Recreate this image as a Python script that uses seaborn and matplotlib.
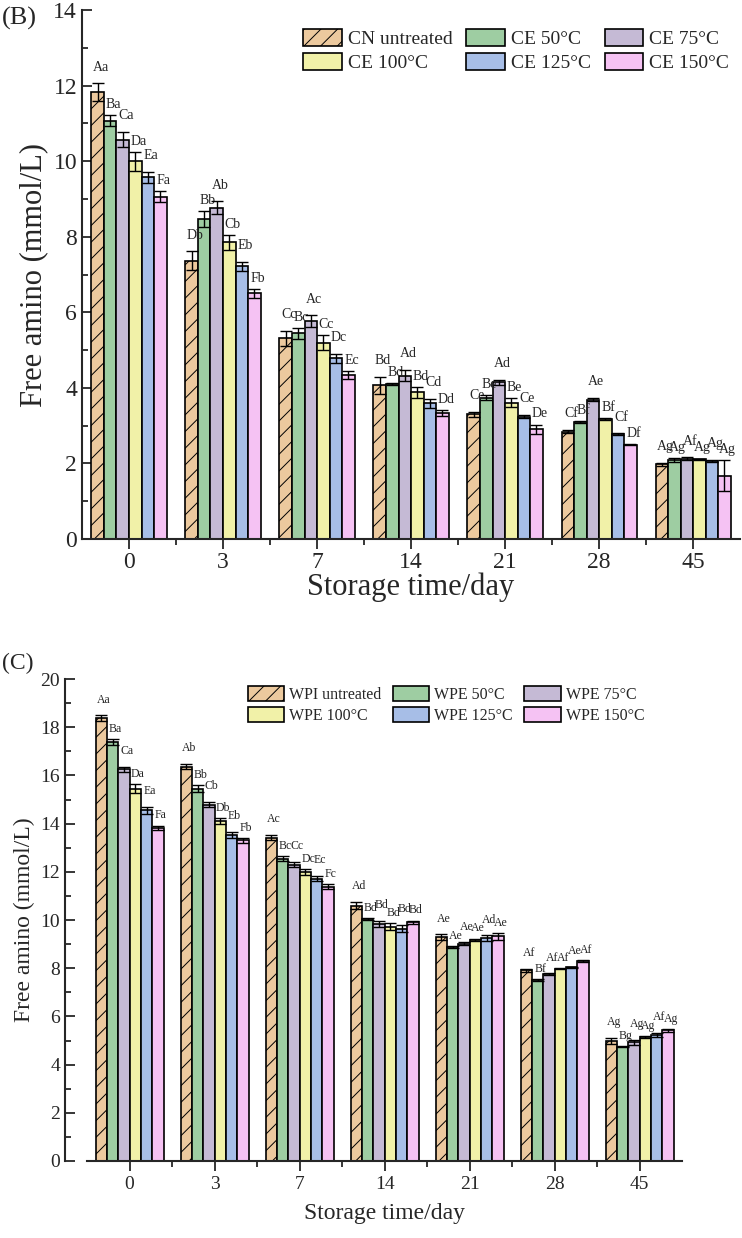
# Free amino groups during storage - panels (B) casein and (C) whey protein
import pandas as pd
import matplotlib.pyplot as plt
import seaborn as sns
from matplotlib.ticker import MultipleLocator
from matplotlib.container import BarContainer

days = ["0", "3", "7", "14", "21", "28", "45"]
colors = ["#F9CB91", "#96D59B", "#C4B5DA", "#FDFD9C", "#9CBBF2", "#FDB9FB"]

# --- Panel B: casein ---
groups_b = ["CN untreated", "CE 50°C", "CE 75°C", "CE 100°C", "CE 125°C", "CE 150°C"]
vals_b = [
    [11.82, 7.36, 5.31, 4.07, 3.30, 2.84, 1.98],
    [11.07, 8.47, 5.44, 4.10, 3.74, 3.09, 2.09],
    [10.57, 8.77, 5.77, 4.32, 4.15, 3.69, 2.13],
    [10.00, 7.85, 5.19, 3.88, 3.61, 3.18, 2.11],
    [9.57, 7.22, 4.78, 3.59, 3.24, 2.78, 2.07],
    [9.06, 6.50, 4.34, 3.33, 2.91, 2.50, 1.68],
]
err_b = [
    [0.24, 0.25, 0.20, 0.22, 0.07, 0.04, 0.04],
    [0.15, 0.20, 0.15, 0.02, 0.07, 0.03, 0.05],
    [0.20, 0.17, 0.15, 0.15, 0.07, 0.04, 0.03],
    [0.25, 0.20, 0.20, 0.15, 0.12, 0.02, 0.02],
    [0.15, 0.12, 0.12, 0.12, 0.04, 0.02, 0.02],
    [0.15, 0.12, 0.10, 0.08, 0.12, 0.02, 0.40],
]
letters_b = [
    ["Aa", "Db", "Cc", "Bd", "Ce", "Cf", "Ag"],
    ["Ba", "Bb", "Bc", "Bd", "Be", "Bf", "Ag"],
    ["Ca", "Ab", "Ac", "Ad", "Ad", "Ae", "Af"],
    ["Da", "Cb", "Cc", "Bd", "Be", "Bf", "Ag"],
    ["Ea", "Eb", "Dc", "Cd", "Ce", "Cf", "Ag"],
    ["Fa", "Fb", "Ec", "Dd", "De", "Df", "Ag"],
]

# --- Panel C: whey protein ---
groups_c = ["WPI untreated", "WPE 50°C", "WPE 75°C", "WPE 100°C", "WPE 125°C", "WPE 150°C"]
vals_c = [
    [18.37, 16.37, 13.42, 10.60, 9.28, 7.91, 4.98],
    [17.38, 15.45, 12.55, 10.05, 8.88, 7.52, 4.74],
    [16.25, 14.79, 12.30, 9.85, 9.02, 7.76, 4.92],
    [15.45, 14.10, 12.00, 9.72, 9.18, 7.98, 5.15],
    [14.55, 13.54, 11.72, 9.64, 9.24, 8.04, 5.23],
    [13.82, 13.31, 11.38, 9.90, 9.32, 8.30, 5.42],
]
err_c = [
    [0.12, 0.12, 0.12, 0.15, 0.12, 0.05, 0.12],
    [0.12, 0.15, 0.10, 0.03, 0.05, 0.03, 0.03],
    [0.10, 0.10, 0.12, 0.12, 0.05, 0.03, 0.10],
    [0.18, 0.12, 0.12, 0.15, 0.05, 0.03, 0.03],
    [0.15, 0.12, 0.12, 0.15, 0.12, 0.03, 0.08],
    [0.10, 0.10, 0.10, 0.08, 0.15, 0.03, 0.05],
]
letters_c = [
    ["Aa", "Ab", "Ac", "Ad", "Ae", "Af", "Ag"],
    ["Ba", "Bb", "Bc", "Bd", "Ae", "Bf", "Bg"],
    ["Ca", "Cb", "Cc", "Bd", "Ae", "Af", "Ag"],
    ["Da", "Db", "Dc", "Bd", "Ae", "Af", "Ag"],
    ["Ea", "Eb", "Ec", "Bd", "Ad", "Ae", "Af"],
    ["Fa", "Fb", "Fc", "Bd", "Ae", "Af", "Ag"],
]

sns.set_style("ticks")
plt.rcParams["font.family"] = ["Liberation Serif", "DejaVu Serif"]
plt.rcParams["hatch.linewidth"] = 0.7

# legend fills column by column; this gives the row-wise order of the original
legend_order = [0, 3, 1, 4, 2, 5]


def panel(ax, groups, vals, errs, letters, ymax, fs):
    rows = []
    for g, v in zip(groups, vals):
        for d, y in zip(days, v):
            rows.append({"day": d, "value": y, "group": g})
    df = pd.DataFrame(rows)
    sns.barplot(data=df, x="day", y="value", hue="group", order=days,
                hue_order=groups, palette=colors, width=0.8, errorbar=None,
                edgecolor="black", linewidth=1.2, legend=False, ax=ax)
    bars = [c for c in ax.containers if isinstance(c, BarContainer)]
    for i, cont in enumerate(bars):
        for j, bar in enumerate(cont.patches):
            if i == 0:
                bar.set_hatch("//")
            cx = bar.get_x() + bar.get_width() / 2
            top = bar.get_height()
            ax.errorbar(cx, top, yerr=errs[i][j], color="black", elinewidth=1,
                        capsize=4.2, capthick=1, zorder=5)
            # small stagger so neighbouring letters do not sit on one line
            lift = 3 + (4 if i % 2 == 0 else 0)
            ax.annotate(letters[i][j], (cx + bar.get_width() * 0.25, top + errs[i][j]),
                        xytext=(0, lift), textcoords="offset points",
                        ha="center", va="bottom", fontsize=fs["ann"])
    ax.set_ylim(0, ymax)
    ax.set_xlim(-0.5, 6.5)
    ax.yaxis.set_major_locator(MultipleLocator(2))
    ax.yaxis.set_minor_locator(MultipleLocator(1))
    ax.set_xticks(range(len(days)))
    ax.set_xticks([k + 0.5 for k in range(len(days) - 1)], minor=True)
    ax.tick_params(axis="y", which="both", direction="in", width=1.3,
                   labelsize=fs["tick"])
    ax.tick_params(axis="y", which="major", length=7)
    ax.tick_params(axis="y", which="minor", length=4)
    ax.tick_params(axis="x", which="both", direction="out", width=1.3,
                   labelsize=fs["tick"], pad=fs["xpad"])
    ax.tick_params(axis="x", which="major", length=7)
    ax.tick_params(axis="x", which="minor", length=4)
    for s in ["top", "right"]:
        ax.spines[s].set_visible(False)
    for s in ["left", "bottom"]:
        ax.spines[s].set_linewidth(1.5)
    ax.set_xlabel("Storage time/day", fontsize=fs["label"], labelpad=fs["lpad"])
    ax.set_ylabel("Free amino (mmol/L)", fontsize=fs["label"])
    return bars


fig = plt.figure(figsize=(7.42, 12.38), dpi=100)

# (B)
ax1 = fig.add_axes([0.1105, 0.5646, 0.887, 0.4273])
bars1 = panel(ax1, groups_b, vals_b, err_b, letters_b, 14,
              {"ann": 10, "tick": 17, "label": 22, "xpad": 2, "lpad": 0})
ax1.legend([bars1[k] for k in legend_order], [groups_b[k] for k in legend_order],
           ncol=3, frameon=False, fontsize=14,
           loc="upper left", bbox_to_anchor=(0.336, 0.965), borderaxespad=0,
           borderpad=0, handlelength=2.0, handleheight=1.0, handletextpad=0.3,
           columnspacing=0.7, labelspacing=0.25)
fig.text(0.003, 0.985, "(B)", fontsize=19, va="center", ha="left")

# (C)
ax2 = fig.add_axes([0.1173, 0.0622, 0.802, 0.3893])
bars2 = panel(ax2, groups_c, vals_c, err_c, letters_c, 20,
              {"ann": 8.5, "tick": 14, "label": 17, "xpad": 4, "lpad": 7})
ax2.spines["left"].set_position(("outward", 16))
ax2.legend([bars2[k] for k in legend_order], [groups_c[k] for k in legend_order],
           ncol=3, frameon=False, fontsize=11.5,
           loc="upper left", bbox_to_anchor=(0.27, 0.985), borderaxespad=0,
           borderpad=0, handlelength=2.3, handleheight=1.05, handletextpad=0.3,
           columnspacing=0.7, labelspacing=0.25)
fig.text(0.003, 0.464, "(C)", fontsize=17, va="center", ha="left")

fig.savefig("out.png", dpi=100)
